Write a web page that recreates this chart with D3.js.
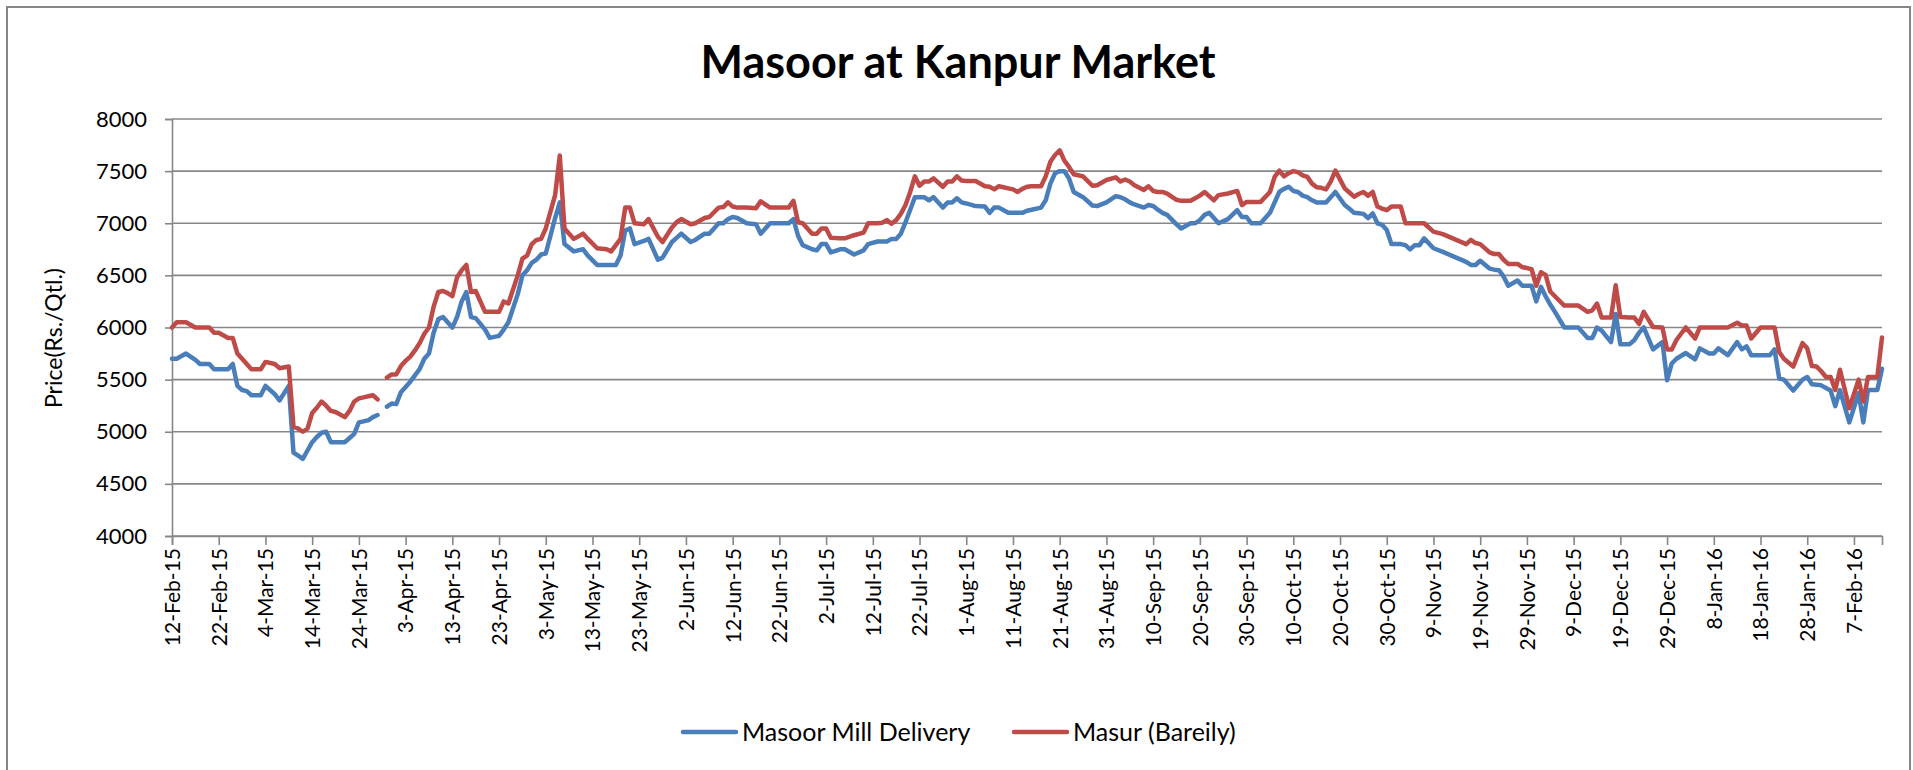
<!DOCTYPE html>
<html>
<head>
<meta charset="utf-8">
<script src="https://cdn.jsdelivr.net/npm/d3@7/dist/d3.min.js"></script>
<style>
  html, body { margin: 0; padding: 0; background: #fff; }
  text { font-family: Lato, "Open Sans", sans-serif; fill: #000; }
</style>
</head>
<body>
<svg id="chart" width="1913" height="770"></svg>
<script>
// chart text
const chartTitle = "Masoor at Kanpur Market";
const yTitle = "Price(Rs./Qtl.)";
const seriesNames = ["Masoor Mill Delivery", "Masur (Bareily)"];

// observed dates (29-Mar-15 has no data, the lines break there)
const dates = [
  "12-Feb-15","13-Feb-15","15-Feb-15","17-Feb-15","18-Feb-15","20-Feb-15","21-Feb-15","22-Feb-15","24-Feb-15","25-Feb-15","26-Feb-15","27-Feb-15","28-Feb-15",
  "1-Mar-15","3-Mar-15","4-Mar-15","6-Mar-15","7-Mar-15","9-Mar-15","10-Mar-15","11-Mar-15","12-Mar-15","13-Mar-15","14-Mar-15","15-Mar-15","16-Mar-15","17-Mar-15","18-Mar-15","19-Mar-15","21-Mar-15","22-Mar-15","23-Mar-15","24-Mar-15","25-Mar-15","26-Mar-15","27-Mar-15","28-Mar-15","29-Mar-15","30-Mar-15","31-Mar-15",
  "1-Apr-15","2-Apr-15","3-Apr-15","4-Apr-15","5-Apr-15","6-Apr-15","7-Apr-15","8-Apr-15","9-Apr-15","10-Apr-15","11-Apr-15","12-Apr-15","13-Apr-15","14-Apr-15","15-Apr-15","16-Apr-15","17-Apr-15","18-Apr-15","20-Apr-15","21-Apr-15","23-Apr-15","24-Apr-15","25-Apr-15","27-Apr-15","28-Apr-15","29-Apr-15","30-Apr-15",
  "1-May-15","2-May-15","3-May-15","5-May-15","6-May-15","7-May-15","9-May-15","11-May-15","12-May-15","14-May-15","16-May-15","17-May-15","18-May-15","19-May-15","20-May-15","21-May-15","22-May-15","24-May-15","25-May-15","27-May-15","28-May-15","30-May-15","31-May-15",
  "1-Jun-15","3-Jun-15","4-Jun-15","6-Jun-15","7-Jun-15","9-Jun-15","10-Jun-15","11-Jun-15","12-Jun-15","13-Jun-15","15-Jun-15","17-Jun-15","18-Jun-15","20-Jun-15","24-Jun-15","25-Jun-15","26-Jun-15","27-Jun-15","29-Jun-15","30-Jun-15",
  "1-Jul-15","2-Jul-15","3-Jul-15","5-Jul-15","6-Jul-15","8-Jul-15","10-Jul-15","11-Jul-15","13-Jul-15","14-Jul-15","15-Jul-15","16-Jul-15","17-Jul-15","18-Jul-15","19-Jul-15","20-Jul-15","21-Jul-15","22-Jul-15","23-Jul-15","24-Jul-15","25-Jul-15","27-Jul-15","28-Jul-15","29-Jul-15","30-Jul-15","31-Jul-15",
  "1-Aug-15","3-Aug-15","5-Aug-15","6-Aug-15","7-Aug-15","8-Aug-15","10-Aug-15","11-Aug-15","12-Aug-15","13-Aug-15","14-Aug-15","15-Aug-15","17-Aug-15","18-Aug-15","19-Aug-15","20-Aug-15","21-Aug-15","22-Aug-15","23-Aug-15","24-Aug-15","26-Aug-15","28-Aug-15","29-Aug-15","31-Aug-15",
  "2-Sep-15","3-Sep-15","4-Sep-15","5-Sep-15","6-Sep-15","8-Sep-15","9-Sep-15","10-Sep-15","11-Sep-15","12-Sep-15","13-Sep-15","15-Sep-15","16-Sep-15","18-Sep-15","19-Sep-15","20-Sep-15","21-Sep-15","22-Sep-15","23-Sep-15","24-Sep-15","26-Sep-15","28-Sep-15","29-Sep-15","30-Sep-15",
  "1-Oct-15","3-Oct-15","5-Oct-15","6-Oct-15","7-Oct-15","8-Oct-15","9-Oct-15","10-Oct-15","11-Oct-15","12-Oct-15","13-Oct-15","14-Oct-15","15-Oct-15","16-Oct-15","17-Oct-15","18-Oct-15","19-Oct-15","21-Oct-15","22-Oct-15","23-Oct-15","24-Oct-15","25-Oct-15","26-Oct-15","27-Oct-15","28-Oct-15","29-Oct-15","30-Oct-15","31-Oct-15",
  "2-Nov-15","3-Nov-15","4-Nov-15","5-Nov-15","6-Nov-15","7-Nov-15","9-Nov-15","11-Nov-15","16-Nov-15","17-Nov-15","18-Nov-15","19-Nov-15","21-Nov-15","22-Nov-15","23-Nov-15","24-Nov-15","25-Nov-15","27-Nov-15","28-Nov-15","30-Nov-15",
  "1-Dec-15","2-Dec-15","3-Dec-15","4-Dec-15","5-Dec-15","7-Dec-15","10-Dec-15","12-Dec-15","13-Dec-15","14-Dec-15","15-Dec-15","17-Dec-15","18-Dec-15","19-Dec-15","21-Dec-15","22-Dec-15","23-Dec-15","24-Dec-15","26-Dec-15","28-Dec-15","29-Dec-15","30-Dec-15","31-Dec-15",
  "2-Jan-16","4-Jan-16","5-Jan-16","7-Jan-16","8-Jan-16","9-Jan-16","11-Jan-16","13-Jan-16","14-Jan-16","15-Jan-16","16-Jan-16","18-Jan-16","20-Jan-16","21-Jan-16","22-Jan-16","23-Jan-16","25-Jan-16","27-Jan-16","28-Jan-16","29-Jan-16","30-Jan-16","31-Jan-16",
  "1-Feb-16","2-Feb-16","3-Feb-16","4-Feb-16","6-Feb-16","8-Feb-16","9-Feb-16","10-Feb-16","12-Feb-16","13-Feb-16"
];

// Masoor Mill Delivery (blue)
const millDelivery = [
  5700,5700,5750,5690,5650,5650,5600,5600,5600,5650,5440,5400,5390,
  5350,5350,5440,5360,5300,5440,4800,4770,4740,4820,4900,4950,4990,5000,4900,4900,4900,4940,4980,5090,5100,5110,5140,5160,null,5240,5270,
  5265,5380,5430,5480,5540,5600,5700,5750,5950,6080,6100,6050,6000,6100,6250,6340,6100,6090,5980,5900,5920,5980,6050,6320,6500,6550,6620,
  6650,6700,6710,7050,7200,6800,6730,6750,6690,6600,6600,6600,6600,6690,6930,6950,6800,6830,6850,6650,6670,6820,6860,
  6900,6820,6840,6900,6900,7000,7000,7040,7060,7050,7000,6990,6900,7000,7000,7040,6880,6790,6750,6740,
  6800,6800,6720,6750,6750,6700,6740,6800,6825,6825,6825,6850,6850,6900,7010,7130,7250,7250,7250,7220,7250,7150,7200,7200,7240,7200,
  7190,7165,7160,7100,7150,7150,7100,7100,7100,7100,7120,7130,7150,7220,7380,7480,7500,7500,7430,7300,7250,7170,7165,7200,
  7260,7250,7230,7200,7180,7150,7175,7165,7130,7100,7080,6990,6950,7000,7000,7030,7080,7100,7050,7000,7040,7125,7060,7060,
  7000,7000,7100,7200,7300,7330,7350,7310,7300,7265,7250,7220,7200,7200,7200,7250,7300,7175,7140,7100,7095,7090,7050,7095,7000,6985,6935,6800,
  6800,6790,6750,6790,6790,6855,6760,6725,6630,6600,6600,6640,6565,6555,6550,6490,6400,6450,6400,6400,
  6250,6390,6300,6220,6150,6000,6000,5900,5900,6000,5970,5860,6130,5840,5840,5880,5950,6000,5790,5860,5495,5655,5700,
  5755,5695,5800,5750,5750,5800,5735,5860,5790,5820,5735,5735,5735,5790,5510,5500,5395,5500,5525,5455,5450,5445,
  5420,5395,5245,5400,5090,5370,5090,5400,5400,5605
];

// Masur (Bareily) (red)
const masurBareilly = [
  6000,6050,6050,6000,6000,6000,5950,5950,5900,5900,5750,5700,5650,
  5600,5600,5670,5650,5610,5625,5050,5030,5000,5030,5180,5230,5290,5250,5200,5190,5140,5200,5290,5320,5330,5340,5350,5310,null,5520,5550,
  5550,5630,5680,5720,5780,5850,5940,6000,6200,6340,6350,6330,6300,6480,6550,6600,6340,6350,6150,6150,6150,6250,6230,6500,6660,6690,6800,
  6840,6850,6950,7270,7650,6950,6850,6900,6850,6760,6750,6730,6790,6850,7150,7150,7000,6990,7040,6870,6820,6960,7010,
  7040,6990,7000,7050,7060,7150,7155,7200,7160,7150,7150,7145,7210,7150,7150,7215,7010,7000,6900,6900,
  6950,6950,6860,6855,6855,6885,6910,7000,7000,7005,7030,6995,7030,7090,7175,7300,7450,7360,7400,7400,7430,7350,7400,7400,7450,7410,
  7405,7405,7355,7350,7325,7355,7335,7325,7300,7330,7350,7355,7355,7450,7590,7655,7700,7600,7540,7470,7450,7360,7365,7415,
  7440,7400,7420,7400,7365,7320,7355,7310,7300,7300,7285,7225,7215,7215,7240,7265,7300,7260,7220,7270,7285,7310,7175,7205,
  7205,7205,7300,7445,7505,7450,7480,7500,7490,7460,7445,7380,7345,7340,7325,7400,7505,7335,7295,7255,7280,7300,7265,7300,7160,7140,7125,7160,
  7160,7000,7000,7000,7000,7000,6920,6895,6800,6840,6810,6800,6720,6705,6705,6650,6610,6610,6580,6560,
  6400,6530,6505,6345,6300,6210,6210,6150,6165,6230,6095,6095,6405,6100,6095,6095,6035,6150,6005,6000,5790,5790,5880,
  6000,5895,6000,6000,6000,6000,6000,6045,6020,6020,5895,6000,6000,6000,5765,5700,5625,5850,5800,5630,5625,5580,
  5525,5525,5400,5595,5225,5500,5290,5525,5525,5905
];

const priceTicks = [4000, 4500, 5000, 5500, 6000, 6500, 7000, 7500, 8000];

const svg = d3.select("#chart");
const width = +svg.attr("width");
const height = +svg.attr("height");

// plot area
const plotLeft = 172, plotRight = 1882, plotTop = 119, plotBottom = 536;

const parseDate = d3.timeParse("%d-%b-%y");
const formatDate = d3.timeFormat("%-d-%b-%y");
const days = dates.map(parseDate);

const xScale = d3.scaleTime()
  .domain(d3.extent(days))
  .range([plotLeft, plotRight]);

const yScale = d3.scaleLinear()
  .domain([4000, 8000])
  .range([plotBottom, plotTop]);

const gridColor = "#878787";

svg.append("rect")
  .attr("width", width).attr("height", height)
  .attr("fill", "#fff");

// outer chart border
svg.append("rect")
  .attr("x", 7).attr("y", 7)
  .attr("width", 1903).attr("height", 820)
  .attr("fill", "none")
  .attr("stroke", gridColor)
  .attr("stroke-width", 2);

// title
svg.append("text")
  .attr("x", 958).attr("y", 78)
  .attr("text-anchor", "middle")
  .style("font-size", "45px")
  .style("font-weight", "bold")
  .text(chartTitle);

// horizontal gridlines
svg.append("g")
  .selectAll("line")
  .data(priceTicks)
  .join("line")
  .attr("x1", plotLeft).attr("x2", plotRight)
  .attr("y1", d => yScale(d)).attr("y2", d => yScale(d))
  .attr("stroke", gridColor)
  .attr("stroke-width", 1.6);

// y axis
const yAxis = svg.append("g")
  .attr("transform", "translate(" + plotLeft + ",0)")
  .call(d3.axisLeft(yScale).tickValues(priceTicks).tickSize(7).tickPadding(18).tickFormat(d3.format("d")));
yAxis.select(".domain").attr("stroke", gridColor).attr("stroke-width", 1.6);
yAxis.selectAll(".tick line").attr("stroke", gridColor).attr("stroke-width", 1.6);
yAxis.selectAll(".tick text")
  .style("font-size", "22px")
  .style("font-family", "Lato, sans-serif")
  .attr("fill", "#000");

// x axis, a tick every 10 days from the first date
const tickDays = d3.timeDay.range(days[0], days[days.length - 1], 10);
const xAxis = svg.append("g")
  .attr("transform", "translate(0," + plotBottom + ")")
  .call(d3.axisBottom(xScale).tickValues(tickDays).tickSize(9).tickFormat(formatDate));
xAxis.select(".domain").attr("stroke", gridColor).attr("stroke-width", 1.6);
xAxis.selectAll(".tick line").attr("stroke", gridColor).attr("stroke-width", 1.6);
xAxis.selectAll(".tick text")
  .style("font-size", "21px")
  .style("font-family", "Lato, sans-serif")
  .attr("fill", "#000")
  .attr("text-anchor", "end")
  .attr("dy", "0.35em")
  .attr("transform", "translate(0,12) rotate(-90)")
  .attr("x", 0).attr("y", 0);

// y axis title
svg.append("text")
  .attr("transform", "translate(62,338) rotate(-90)")
  .attr("text-anchor", "middle")
  .style("font-size", "23px")
  .text(yTitle);

// series lines
const series = [
  { name: seriesNames[0], values: millDelivery, color: "#4A7EBB" },
  { name: seriesNames[1], values: masurBareilly, color: "#BE4B48" }
];

const line = d3.line()
  .defined(d => d.v != null)
  .x(d => xScale(d.date))
  .y(d => yScale(d.v));

series.forEach(s => {
  const pts = days.map((date, i) => ({ date: date, v: s.values[i] }));
  svg.append("path")
    .datum(pts)
    .attr("fill", "none")
    .attr("stroke", s.color)
    .attr("stroke-width", 4.5)
    .attr("stroke-linejoin", "round")
    .attr("stroke-linecap", "round")
    .attr("d", line);
});

// legend
const legendX = [683, 1014];
series.forEach((s, i) => {
  const g = svg.append("g").attr("transform", "translate(" + legendX[i] + ",732)");
  g.append("line")
    .attr("x1", 0).attr("x2", 53)
    .attr("stroke", s.color)
    .attr("stroke-width", 4.5)
    .attr("stroke-linecap", "round");
  g.append("text")
    .attr("x", 59).attr("y", 9)
    .style("font-size", "25px")
    .text(s.name);
});
</script>
</body>
</html>
